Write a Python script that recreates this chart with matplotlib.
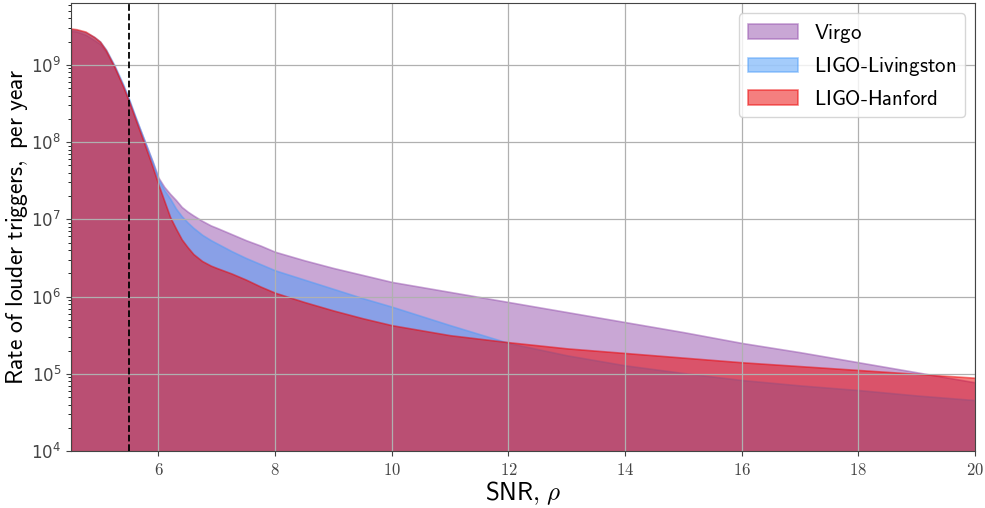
import numpy as np
import matplotlib.pyplot as plt
from matplotlib.ticker import FixedLocator, FuncFormatter

plt.rcParams['mathtext.fontset'] = 'cm'

# ---- SNR grid and log10 of the cumulative trigger rate per detector [1/yr] ----
snr = [4.5, 4.6, 4.75, 4.9, 5.0, 5.1, 5.25, 5.4, 5.5, 5.6, 5.75, 5.9,
       6.0, 6.1, 6.2, 6.3, 6.4, 6.5, 6.6, 6.75, 6.9, 7.0, 7.25, 7.5, 7.75,
       8.0, 8.5, 9.0, 9.5, 10.0, 11.0, 12.0, 13.0, 14.0, 15.0, 16.0, 17.0,
       18.0, 19.0, 20.0]

log_rate_virgo = [9.44, 9.43, 9.39, 9.32, 9.27, 9.17, 8.96, 8.72, 8.53, 8.33,
                  8.04, 7.75, 7.54, 7.42, 7.33, 7.25, 7.16, 7.10, 7.05, 6.98,
                  6.92, 6.89, 6.81, 6.73, 6.66, 6.58, 6.47, 6.37, 6.28, 6.19,
                  6.06, 5.93, 5.80, 5.67, 5.54, 5.40, 5.28, 5.15, 5.02, 4.89]

log_rate_livingston = [9.46, 9.45, 9.42, 9.36, 9.30, 9.20, 8.99, 8.74, 8.55, 8.34,
                       8.04, 7.74, 7.52, 7.38, 7.27, 7.14, 7.04, 6.96, 6.89, 6.80,
                       6.73, 6.69, 6.59, 6.50, 6.42, 6.34, 6.22, 6.10, 5.98, 5.87,
                       5.63, 5.40, 5.24, 5.11, 5.01, 4.92, 4.85, 4.79, 4.72, 4.66]

log_rate_hanford = [9.47, 9.46, 9.43, 9.36, 9.30, 9.19, 8.97, 8.71, 8.52, 8.31,
                    8.00, 7.68, 7.45, 7.24, 7.03, 6.88, 6.74, 6.64, 6.55, 6.46,
                    6.40, 6.37, 6.30, 6.22, 6.13, 6.05, 5.93, 5.82, 5.72, 5.63,
                    5.50, 5.41, 5.33, 5.27, 5.21, 5.15, 5.10, 5.05, 5.00, 4.95]

snr_threshold = 5.5
floor = 1e4

x_ticks = [6, 8, 10, 12, 14, 16, 18, 20]

fig = plt.figure(figsize=(9.85, 5.08), dpi=100)
ax = fig.add_axes([0.072, 0.112, 0.918, 0.882])

ax.fill_between(snr, floor, 10**np.array(log_rate_virgo), facecolor='#9450ad',
                alpha=0.5, edgecolor='#9450ad', linewidth=1.2,
                label=r'$\mathsf{Virgo}$')
ax.fill_between(snr, floor, 10**np.array(log_rate_livingston), facecolor='#4a9bf9',
                alpha=0.5, edgecolor='#4a9bf9', linewidth=1.2,
                label=r'$\mathsf{LIGO\text{-}Livingston}$')
ax.fill_between(snr, floor, 10**np.array(log_rate_hanford), facecolor='#eb0000',
                alpha=0.5, edgecolor='#eb0000', linewidth=1.2,
                label=r'$\mathsf{LIGO\text{-}Hanford}$')

ax.axvline(snr_threshold, color='black', linestyle='--', linewidth=1.3)

ax.set_yscale('log')
ax.set_xlim(4.5, 20)
ax.set_ylim(floor, 6.3e9)

ax.xaxis.set_major_locator(FixedLocator(x_ticks))
ax.xaxis.set_major_formatter(FuncFormatter(lambda v, p: r'$%d$' % v))
ax.tick_params(axis='both', labelsize=12, colors='#444444')
ax.grid(True, which='major', color='#b0b0b0', linewidth=0.9)

for s in ax.spines.values():
    s.set_color('#444444')

ax.set_xlabel(r'$\mathsf{SNR{,}}\ \rho$', fontsize=18, labelpad=0)
ax.set_ylabel(r'$\mathsf{Rate\ of\ louder\ triggers,\ per\ year}$', fontsize=17)
ax.yaxis.set_label_coords(-0.045, 0.5)

ax.legend(loc='upper right', fontsize=15, handlelength=2.4, framealpha=0.8)

fig.savefig('out.png', dpi=100)
